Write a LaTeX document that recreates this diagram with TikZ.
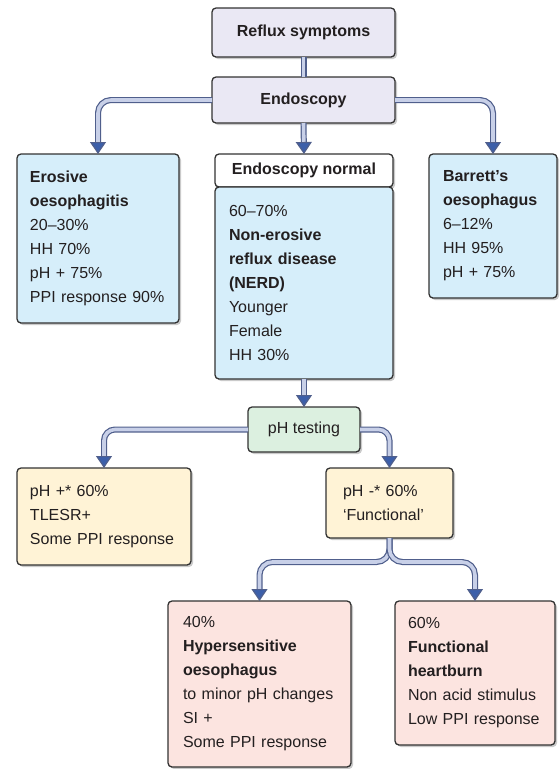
\documentclass[tikz,border=0pt]{standalone}
\usepackage{fontspec}
\setmainfont{Liberation Sans}
\usepackage{tikz}
\usetikzlibrary{arrows.meta, positioning, shadows}
\definecolor{topcolor}{RGB}{234,232,244}
\definecolor{bluecolor}{RGB}{214,238,250}
\definecolor{greencolor}{RGB}{220,240,224}
\definecolor{yellowcolor}{RGB}{255,243,214}
\definecolor{pinkcolor}{RGB}{252,228,224}
\definecolor{boxedge}{RGB}{50,50,50}
\definecolor{textgrey}{RGB}{35,31,32}
\definecolor{pipeedge}{RGB}{80,95,140}
\definecolor{pipefill}{RGB}{200,208,232}
\definecolor{arrowblue}{RGB}{60,95,170}

\begin{document}
\begin{tikzpicture}[
    x=1pt, y=-1pt,
    every node/.style={font=\fontsize{16}{24}\selectfont, text=textgrey},
    box/.style={rectangle, rounded corners=4pt, draw=boxedge, line width=1.3pt, outer sep=0pt,
        drop shadow={shadow xshift=2pt, shadow yshift=-2pt, opacity=0.35, fill=black!60}},
    topbox/.style={box, fill=topcolor, minimum width=183pt, font=\bfseries\fontsize{16}{24}\selectfont},
    headbox/.style={box, fill=white, minimum width=178pt, minimum height=33pt, inner sep=0pt, font=\bfseries\fontsize{16}{24}\selectfont},
    infobox/.style={box, align=left, inner ysep=0pt},
    pipe/.style={draw=pipeedge, line width=1.2pt, double=pipefill, double distance=3.6pt, rounded corners=13pt},
    pipearrow/.style={pipe, -{Triangle[width=16pt, length=12pt, fill=arrowblue, color=pipeedge]}}
]
    \useasboundingbox (0,0) rectangle (560,769);

    % Top of the chart
    \node[topbox, minimum height=49pt] (reflux) at (303.5,32.5) {Reflux symptoms};
    \node[topbox, minimum height=46pt] (endo) at (303.5,100) {Endoscopy};

    % Erosive
    \node[infobox, fill=bluecolor, inner xsep=13pt, text width=136pt, minimum height=169pt] (erosive) at (98,238.5) {
        \textbf{Erosive}\\
        \textbf{oesophagitis}\\
        20--30\%\\
        HH 70\%\\
        pH + 75\%\\
        PPI response 90\%};

    % Endoscopy normal
    \node[headbox] (normhead) at (304,170.5) {Endoscopy normal};
    \node[infobox, fill=bluecolor, inner xsep=14pt, text width=150pt, minimum height=192pt, below=0pt of normhead] (nerd) {
        60--70\%\\
        \textbf{Non-erosive}\\
        \textbf{reflux disease}\\
        \textbf{(NERD)}\\
        Younger\\
        Female\\
        HH 30\%};

    % Barrett
    \node[infobox, fill=bluecolor, inner xsep=14pt, text width=100pt, minimum height=144pt] (barrett) at (493,226) {
        \textbf{Barrett’s}\\
        \textbf{oesophagus}\\
        6--12\%\\
        HH 95\%\\
        pH + 75\%};

    % pH testing
    \node[box, fill=greencolor, minimum width=112pt, minimum height=45pt] (phtest) at (304,429.5) {pH testing};

    \node[infobox, fill=yellowcolor, inner xsep=13pt, text width=148pt, minimum height=97pt] (phpos) at (104,516.5) {
        pH +* 60\%\\
        TLESR+\\
        Some PPI response};
    \node[infobox, fill=yellowcolor, inner xsep=17pt, text width=93pt, minimum height=70pt] (phneg) at (389.5,503) {
        pH -* 60\%\\
        ‘Functional’};

    % Functional branch
    \node[infobox, fill=pinkcolor, inner xsep=15pt, text width=153pt, minimum height=166pt] (hyper) at (259.5,684) {
        40\%\\
        \textbf{Hypersensitive}\\
        \textbf{oesophagus}\\
        to minor pH changes\\
        SI +\\
        Some PPI response};
    \node[infobox, fill=pinkcolor, inner xsep=13pt, text width=134pt, minimum height=144pt] (heartburn) at (475,673) {
        60\%\\
        \textbf{Functional}\\
        \textbf{heartburn}\\
        Non acid stimulus\\
        Low PPI response};

    % Connectors
    \draw[pipe] (reflux.south) -- (endo.north);
    \draw[pipearrow] (endo.west) -| (erosive.north);
    \draw[pipearrow] (endo.south) -- (normhead.north);
    \draw[pipearrow] (endo.east) -| (barrett.north);
    \draw[pipearrow] (nerd.south) -- (phtest.north);
    \draw[pipearrow, rounded corners=11pt] (phtest.west) -| (phpos.north);
    \draw[pipearrow, rounded corners=11pt] (phtest.east) -| (phneg.north);
    \draw[pipearrow] (phneg.south) -- ++(0,24) -| (hyper.north);
    \draw[pipearrow] (phneg.south) -- ++(0,24) -| (heartburn.north);

\end{tikzpicture}
\end{document}
